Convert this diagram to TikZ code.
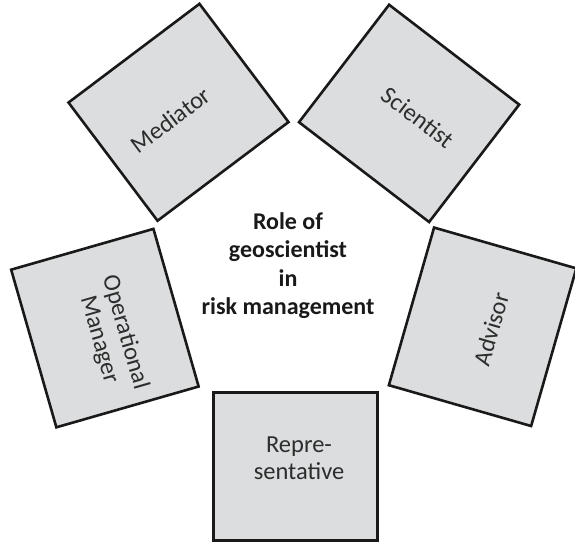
\documentclass[tikz,border=0pt]{standalone}
\usepackage{fontspec}
\setmainfont{Carlito}
\definecolor{boxfill}{RGB}{220,221,222}
\definecolor{boxtext}{RGB}{45,45,45}
\begin{document}
\begin{tikzpicture}[x=1pt,y=1pt,
  rolebox/.style={draw=black!90, line width=2.6pt, fill=boxfill, minimum width=164pt, minimum height=148pt, inner sep=0pt},
  rolelabel/.style={align=center, text=boxtext, font=\fontsize{24.5}{27}\selectfont, inner sep=0pt},
  centertext/.style={align=center, font=\fontsize{24}{28.3}\selectfont\bfseries, text=black!90, inner sep=0pt}]
\useasboundingbox (0,0) rectangle (575,543);
\node[rolebox, rotate=37] (med) at (178.5,430.7) {};
\node[rolebox, rotate=-37.5] (sci) at (409.1,429.6) {};
\node[rolebox, rotate=-74] (opm) at (104.9,214.9) {};
\node[rolebox, rotate=74] (adv) at (482.6,216.2) {};
\node[rolebox] (rep) at (295.5,76.7) {};
\node[rolelabel, rotate=37] (medl) at (170.5,423) {Mediator};
\node[rolelabel, rotate=-37.5] (scil) at (418,425.5) {Scientist};
\node[rolelabel, rotate=-74] (opml) at (112,207) {Operational\\Manager};
\node[rolelabel, rotate=74] (advl) at (491,214) {Advisor};
\node[rolelabel] (repl) at (299,84.5) {Repre-\\sentative};
\node[centertext] (role) at (288,277.5) {Role of\\geoscientist\\in\\risk management};
\end{tikzpicture}
\end{document}
